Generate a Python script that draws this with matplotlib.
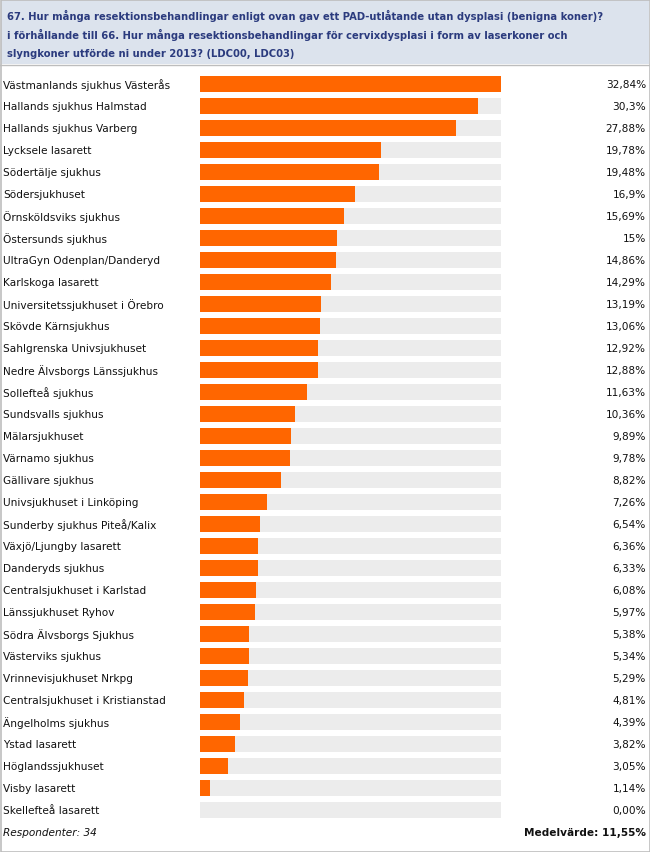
import matplotlib
matplotlib.use("Agg")
import matplotlib.pyplot as plt
from matplotlib.patches import Rectangle

categories = [
    "Västmanlands sjukhus Västerås", "Hallands sjukhus Halmstad", "Hallands sjukhus Varberg",
    "Lycksele lasarett", "Södertälje sjukhus", "Södersjukhuset", "Örnsköldsviks sjukhus",
    "Östersunds sjukhus", "UltraGyn Odenplan/Danderyd", "Karlskoga lasarett",
    "Universitetssjukhuset i Örebro", "Skövde Kärnsjukhus", "Sahlgrenska Univsjukhuset",
    "Nedre Älvsborgs Länssjukhus", "Sollefteå sjukhus", "Sundsvalls sjukhus",
    "Mälarsjukhuset", "Värnamo sjukhus", "Gällivare sjukhus", "Univsjukhuset i Linköping",
    "Sunderby sjukhus Piteå/Kalix", "Växjö/Ljungby lasarett", "Danderyds sjukhus",
    "Centralsjukhuset i Karlstad", "Länssjukhuset Ryhov", "Södra Älvsborgs Sjukhus",
    "Västerviks sjukhus", "Vrinnevisjukhuset Nrkpg", "Centralsjukhuset i Kristianstad",
    "Ängelholms sjukhus", "Ystad lasarett", "Höglandssjukhuset", "Visby lasarett",
    "Skellefteå lasarett",
]
values = [32.84, 30.3, 27.88, 19.78, 19.48, 16.9, 15.69, 15, 14.86, 14.29, 13.19, 13.06,
          12.92, 12.88, 11.63, 10.36, 9.89, 9.78, 8.82, 7.26, 6.54, 6.36, 6.33, 6.08,
          5.97, 5.38, 5.34, 5.29, 4.81, 4.39, 3.82, 3.05, 1.14, 0.00]
value_labels = ["32,84%", "30,3%", "27,88%", "19,78%", "19,48%", "16,9%", "15,69%", "15%",
                "14,86%", "14,29%", "13,19%", "13,06%", "12,92%", "12,88%", "11,63%",
                "10,36%", "9,89%", "9,78%", "8,82%", "7,26%", "6,54%", "6,36%", "6,33%",
                "6,08%", "5,97%", "5,38%", "5,34%", "5,29%", "4,81%", "4,39%", "3,82%",
                "3,05%", "1,14%", "0,00%"]
title_lines = [
    "67. Hur många resektionsbehandlingar enligt ovan gav ett PAD-utlåtande utan dysplasi (benigna koner)?",
    "i förhållande till 66. Hur många resektionsbehandlingar för cervixdysplasi i form av laserkoner och",
    "slyngkoner utförde ni under 2013? (LDC00, LDC03)",
]
respondents = "Respondenter: 34"
mean_text = "Medelvärde: 11,55%"

W, H = 650, 853
fig = plt.figure(figsize=(W / 100, H / 100), dpi=100)
fig.patch.set_facecolor("white")

def fx(px):
    return px / W

def fy(py):
    return 1 - py / H

# header
fig.patches.append(Rectangle((fx(1), fy(65)), fx(648), 64 / H, transform=fig.transFigure,
                             facecolor="#dce3ed", edgecolor="none", zorder=0))
fig.patches.append(Rectangle((fx(0.5), fy(852.5)), fx(649), 852 / H, transform=fig.transFigure,
                             facecolor="none", edgecolor="#bdbdbd", linewidth=1.2, zorder=5))
fig.add_artist(plt.Line2D([fx(0), fx(650)], [fy(65.5), fy(65.5)], transform=fig.transFigure,
                          color="#bdbdbd", linewidth=1))
for i, line in enumerate(title_lines):
    fig.text(fx(7), fy(16 + i * 19), line, ha="left", va="center", fontsize=7.2,
             fontweight="bold", color="#2b3b7e", family="DejaVu Sans")

n = len(categories)
row = 22
top = 74
ax = fig.add_axes([fx(200), fy(top + n * row), fx(301), n * row / H])
ys = list(range(n))
maxv = max(values)
ax.barh(ys, [maxv] * n, height=16 / 22, color="#ececec", edgecolor="none")
ax.barh(ys, values, height=16 / 22, color="#ff6600", edgecolor="none")
ax.set_xlim(0, maxv)
ax.set_ylim(n - 0.5, -0.5)
ax.axis("off")

for i, (c, vl) in enumerate(zip(categories, value_labels)):
    ycen = top + row / 2 + i * row
    fig.text(fx(3), fy(ycen), c, ha="left", va="center", fontsize=7.6, color="#111111")
    fig.text(fx(646), fy(ycen), vl, ha="right", va="center", fontsize=7.6, color="#111111")

fig.text(fx(3), fy(833), respondents, ha="left", va="center", fontsize=7.6,
         style="italic", color="#111111")
fig.text(fx(646), fy(833), mean_text, ha="right", va="center", fontsize=7.6,
         fontweight="bold", color="#111111")

fig.savefig("out.png", dpi=100, facecolor="white")
